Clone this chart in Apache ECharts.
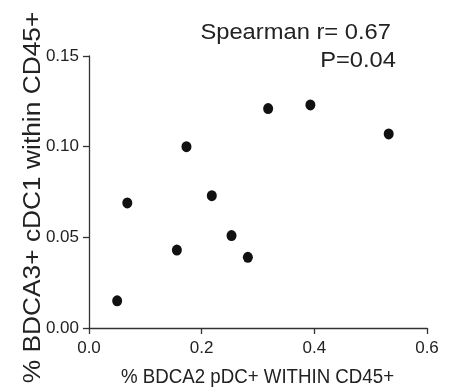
<!DOCTYPE html>
<html>
<head>
<meta charset="utf-8">
<script src="https://cdn.jsdelivr.net/npm/echarts@6/dist/echarts.min.js"></script>
<style>
html,body{margin:0;padding:0;background:#fff;}
#chart{width:457px;height:392px;}
</style>
</head>
<body>
<div id="chart"></div>
<script>
// Data
var xValues = [0.050, 0.068, 0.156, 0.173, 0.218, 0.253, 0.282, 0.318, 0.393, 0.532];
var yValues = [0.015, 0.069, 0.043, 0.100, 0.073, 0.051, 0.039, 0.121, 0.123, 0.107];
var xTicks = [0.0, 0.2, 0.4, 0.6];
var yTicks = [0.00, 0.05, 0.10, 0.15];
var xTitle = '% BDCA2 pDC+ WITHIN CD45+';
var yTitle = '% BDCA3+ cDC1 within CD45+';
var statLines = ['Spearman r= 0.67', 'P=0.04'];

var points = xValues.map(function (x, i) { return [x, yValues[i]]; });
var font = 'Liberation Sans, Arial, Helvetica, sans-serif';
var axisColor = '#333';
var textColor = '#222';

var chart = echarts.init(document.getElementById('chart'), null, {renderer: 'canvas'});
chart.setOption({
  animation: false,
  backgroundColor: '#fff',
  grid: {left: 89, right: 30, top: 56, bottom: 64, containLabel: false},
  xAxis: {
    type: 'value',
    min: xTicks[0], max: xTicks[xTicks.length - 1], interval: xTicks[1] - xTicks[0],
    axisLine: {show: true, lineStyle: {color: axisColor, width: 1.3}},
    axisTick: {show: true, length: 6, inside: false, lineStyle: {color: axisColor, width: 1.3}},
    axisLabel: {margin: 12, fontFamily: font, fontSize: 17, color: textColor,
      formatter: function (v) { return v.toFixed(1); }},
    splitLine: {show: false}
  },
  yAxis: {
    type: 'value',
    min: yTicks[0], max: yTicks[yTicks.length - 1], interval: yTicks[1] - yTicks[0],
    axisLine: {show: true, lineStyle: {color: axisColor, width: 1.3}},
    axisTick: {show: true, length: 6, inside: false, lineStyle: {color: axisColor, width: 1.3}},
    axisLabel: {margin: 10, fontFamily: font, fontSize: 17, color: textColor,
      formatter: function (v) { return v.toFixed(2); }},
    splitLine: {show: false}
  },
  graphic: [
    {type: 'text', x: 257.5, y: 377, scaleX: 1, scaleY: 1.13,
     style: {text: xTitle, font: '18.7px ' + font, fill: textColor, align: 'center', verticalAlign: 'middle'}},
    {type: 'text', x: 34, y: 197.5, rotation: Math.PI / 2, scaleX: 1.13, scaleY: 1,
     style: {text: yTitle, font: '23.3px ' + font, fill: textColor, align: 'center', verticalAlign: 'middle'}},
    {type: 'text', x: 391, y: 32.6, scaleX: 1.13, scaleY: 1.07,
     style: {text: statLines[0], font: '21px ' + font, fill: textColor, align: 'right', verticalAlign: 'middle'}},
    {type: 'text', x: 396, y: 60.9, scaleX: 1.13, scaleY: 1.07,
     style: {text: statLines[1], font: '21px ' + font, fill: textColor, align: 'right', verticalAlign: 'middle'}}
  ],
  series: [{
    type: 'scatter',
    data: points,
    symbol: 'circle',
    symbolSize: [10, 11],
    itemStyle: {color: '#111', opacity: 1}
  }]
});
</script>
</body>
</html>
